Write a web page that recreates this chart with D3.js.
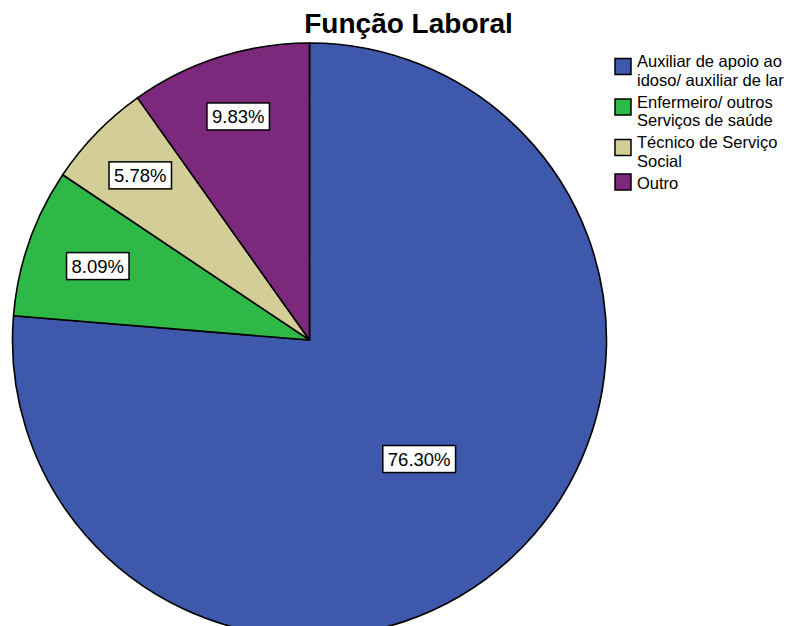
<!DOCTYPE html>
<html>
<head>
<meta charset="utf-8">
<script src="https://cdn.jsdelivr.net/npm/d3@7"></script>
<style>
  html, body { margin: 0; padding: 0; background: #fff; }
  svg { display: block; font-family: "Liberation Sans", Arial, sans-serif; }
</style>
</head>
<body>
<svg id="chart" width="804" height="626"></svg>
<script>
// ---- data ----
const title = "Função Laboral";
const categories = [
  "Auxiliar de apoio ao idoso/ auxiliar de lar",
  "Enfermeiro/ outros Serviços de saúde",
  "Técnico de Serviço Social",
  "Outro"
];
const legendLines = [
  ["Auxiliar de apoio ao", "idoso/ auxiliar de lar"],
  ["Enfermeiro/ outros", "Serviços de saúde"],
  ["Técnico de Serviço", "Social"],
  ["Outro"]
];
const values = [76.30, 8.09, 5.78, 9.83];
const colors = ["#3e58ac", "#2eb848", "#d3ce97", "#7b287d"];

// ---- layout ----
const labelRadiusFactor = [0.545, 0.755, 0.795, 0.79];
const cx = 309.5, cy = 340, R = 297;

const svg = d3.select("#chart");

svg.append("text")
  .attr("x", 408.5).attr("y", 33)
  .attr("text-anchor", "middle")
  .attr("font-size", 28).attr("font-weight", "bold")
  .attr("fill", "#000")
  .text(title);

const pie = d3.pie().sort(null).value(d => d)
  .startAngle(0).endAngle(2 * Math.PI);
const arcs = pie(values);
const arc = d3.arc().innerRadius(0).outerRadius(R);

const g = svg.append("g").attr("transform", `translate(${cx},${cy})`);

g.selectAll("path.slice").data(arcs).enter().append("path")
  .attr("class", "slice")
  .attr("d", arc)
  .attr("fill", (d, i) => colors[i])
  .attr("stroke", "#000")
  .attr("stroke-width", 1.6)
  .attr("stroke-linejoin", "round");

const fmt = v => v.toFixed(2) + "%";

arcs.forEach((d, i) => {
  const a = (d.startAngle + d.endAngle) / 2;
  const r = R * labelRadiusFactor[i];
  const x = Math.sin(a) * r, y = -Math.cos(a) * r;
  const lg = g.append("g").attr("transform", `translate(${x},${y})`);
  const t = lg.append("text")
    .attr("text-anchor", "middle")
    .attr("dy", "0.35em")
    .attr("font-size", 18.5)
    .attr("fill", "#000")
    .text(fmt(values[i]));
  const bb = t.node().getBBox();
  const padX = 5, h = 27;
  lg.insert("rect", "text")
    .attr("x", -bb.width / 2 - padX)
    .attr("y", -h / 2)
    .attr("width", bb.width + 2 * padX)
    .attr("height", h)
    .attr("fill", "#fff")
    .attr("stroke", "#000")
    .attr("stroke-width", 1.5);
});

// ---- legend ----
const lx = 615, tx = 637, lineH = 18.5, gap = 3.5, sw = 16;
let baseline = 67;
const leg = svg.append("g");
legendLines.forEach((lines, i) => {
  const sc = baseline - (lines.length === 1 ? 6.5 : 0.5);
  leg.append("rect")
    .attr("x", lx).attr("y", sc - sw / 2)
    .attr("width", sw).attr("height", sw)
    .attr("fill", colors[i])
    .attr("stroke", "#000").attr("stroke-width", 1.5);
  lines.forEach((ln, j) => {
    leg.append("text")
      .attr("x", tx).attr("y", baseline + j * lineH)
      .attr("font-size", 16.5)
      .attr("fill", "#000")
      .text(ln);
  });
  baseline += lines.length * lineH + gap;
});
</script>
</body>
</html>
